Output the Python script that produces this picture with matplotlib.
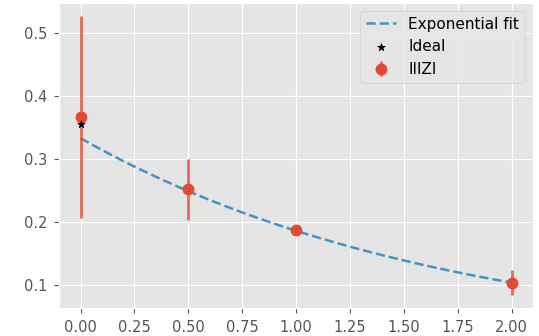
import numpy as np
import matplotlib
matplotlib.use("Agg")
import matplotlib.pyplot as plt

plt.style.use("ggplot")

# measured points
x_meas = [0.0, 0.5, 1.0, 2.0]
y_meas = [0.367, 0.252, 0.187, 0.104]
y_err = [0.160, 0.048, 0.005, 0.020]

# ideal value
x_ideal = [0.0]
y_ideal = [0.355]

# exponential fit parameters  y = a * exp(-b x)
fit_a = 0.333
fit_b = 0.58

fig, ax = plt.subplots(figsize=(5.39, 3.36), dpi=100)

xs = np.linspace(0, 2, 100)
ax.plot(xs, fit_a * np.exp(-fit_b * xs), "--", color="#348ABD", lw=1.8, alpha=0.9,
        label="Exponential fit", zorder=2)
ax.scatter(x_ideal, y_ideal, marker="*", color="black", s=32, label="Ideal", zorder=4)
eb = ax.errorbar(x_meas, y_meas, yerr=y_err, fmt="o", color="#E24A33", ms=7.5,
                 elinewidth=2, label="IIIZI", zorder=3)
eb[2][0].set_alpha(0.8)

h, l = ax.get_legend_handles_labels()
order = [l.index("Exponential fit"), l.index("Ideal"), l.index("IIIZI")]
ax.legend([h[i] for i in order], [l[i] for i in order], loc="upper right", fontsize=11)

ax.set_ylim(0.064, 0.547)
ax.set_xticks([0, 0.25, 0.5, 0.75, 1.0, 1.25, 1.5, 1.75, 2.0])
ax.tick_params(labelsize=10.5, pad=5)

fig.subplots_adjust(left=0.1095, right=0.989, top=0.991, bottom=0.083)
fig.savefig("out.png", dpi=100)
